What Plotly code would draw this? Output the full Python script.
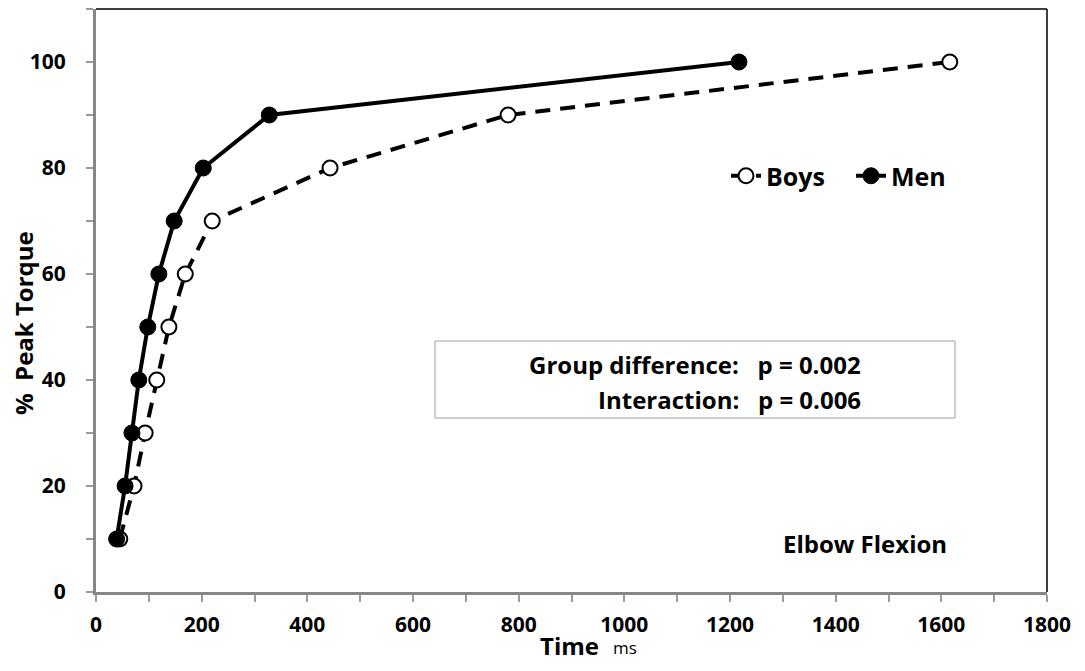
import plotly.graph_objects as go

pct = [10, 20, 30, 40, 50, 60, 70, 80, 90, 100]
boys_ms = [45, 72, 93, 115, 138, 169, 220, 443, 780, 1616]
men_ms = [39, 55, 68, 81, 98, 119, 148, 203, 328, 1217]

x_ticks = list(range(0, 1801, 200))
y_ticks = list(range(0, 101, 20))

FONT = "Open Sans"

# page body has an 8px offset; plot area targets screen px 96..1047 x 9..592
OFF = 8
PL, PR, PT, PB = 96, 1047, 9, 592
W, H = 1085, 671


def px(x):
    return (x - PL) / (PR - PL)


def py(y):
    return (PB - y) / (PB - PT)


fig = go.Figure()
fig.add_trace(go.Scatter(
    x=boys_ms, y=pct, name="<b>Boys</b>", mode="lines+markers",
    line=dict(color="black", width=4, dash="15px,10px"),
    marker=dict(symbol="circle", size=15, color="white", line=dict(color="black", width=2)),
))
fig.add_trace(go.Scatter(
    x=men_ms, y=pct, name="<b>Men</b>", mode="lines+markers",
    line=dict(color="black", width=4),
    marker=dict(symbol="circle", size=16, color="black", line=dict(color="black", width=1)),
))

fig.update_layout(
    width=W, height=H,
    margin=dict(l=PL - OFF, r=W - (PR - OFF), t=PT - OFF, b=H - (PB - OFF)),
    paper_bgcolor="white", plot_bgcolor="white",
    font=dict(family=FONT, color="black", size=20),
    showlegend=True,
    legend=dict(
        x=px(726), y=py(176), xanchor="left", yanchor="middle",
        orientation="h", font=dict(size=25, family=FONT, color="black"),
        bgcolor="rgba(0,0,0,0)", itemwidth=30, tracegroupgap=0,
        traceorder="normal", entrywidth=80, entrywidthmode="pixels",
    ),
    xaxis=dict(
        range=[0, 1800], tickvals=x_ticks, ticktext=[f"<b>{v}</b>" for v in x_ticks],
        showgrid=False, zeroline=False, showline=True, linecolor="#878787", linewidth=3,
        ticks="outside", ticklen=7, tickcolor="#9a9a9a", tickwidth=1.5,
        minor=dict(dtick=100, tick0=0, ticks="outside", ticklen=7, tickcolor="#9a9a9a", tickwidth=1.5),
        tickfont=dict(size=21, family=FONT, color="black"),
        ticklabelstandoff=5,
    ),
    yaxis=dict(
        range=[0, 110], tickvals=y_ticks, ticktext=[f"<b>{v}</b>" for v in y_ticks],
        showgrid=False, zeroline=False, showline=True, linecolor="#878787", linewidth=3,
        ticks="outside", ticklen=7, tickcolor="#9a9a9a", tickwidth=1.5,
        minor=dict(dtick=10, tick0=0, ticks="outside", ticklen=7, tickcolor="#9a9a9a", tickwidth=1.5),
        tickfont=dict(size=21, family=FONT, color="black"),
        ticklabelstandoff=16,
    ),
)

# top and right frame lines
fig.add_shape(type="line", xref="paper", yref="paper", x0=0, x1=1, y0=1, y1=1,
              line=dict(color="black", width=1.5))
fig.add_shape(type="line", xref="paper", yref="paper", x0=1, x1=1, y0=0, y1=1,
              line=dict(color="black", width=1.5))

# stats box
fig.add_shape(type="rect", xref="paper", yref="paper",
              x0=px(435), x1=px(955), y0=py(418), y1=py(341),
              line=dict(color="#a0a0a0", width=1), fillcolor="rgba(0,0,0,0)")
fig.add_annotation(xref="paper", yref="paper", x=px(863), y=py(364),
                   text="<b>Group difference:   p = 0.002</b>", showarrow=False,
                   xanchor="right", yanchor="middle", font=dict(size=24, family=FONT))
fig.add_annotation(xref="paper", yref="paper", x=px(863), y=py(399),
                   text="<b>Interaction:   p = 0.006</b>", showarrow=False,
                   xanchor="right", yanchor="middle", font=dict(size=24, family=FONT))

fig.add_annotation(xref="paper", yref="paper", x=px(949), y=py(543),
                   text="<b>Elbow Flexion</b>", showarrow=False,
                   xanchor="right", yanchor="middle", font=dict(size=24, family=FONT))

# axis titles
fig.add_annotation(xref="paper", yref="paper", x=px(538), y=py(645),
                   text="<b>Time</b>", showarrow=False,
                   xanchor="left", yanchor="middle", font=dict(size=24, family=FONT))
fig.add_annotation(xref="paper", yref="paper", x=px(611), y=py(647),
                   text="ms", showarrow=False,
                   xanchor="left", yanchor="middle", font=dict(size=17, family=FONT))
fig.add_annotation(xref="paper", yref="paper", x=px(23), y=py(323),
                   text="<b>%  Peak Torque</b>", showarrow=False, textangle=-90,
                   xanchor="center", yanchor="middle", font=dict(size=24, family=FONT))

fig.write_html("out.html")
